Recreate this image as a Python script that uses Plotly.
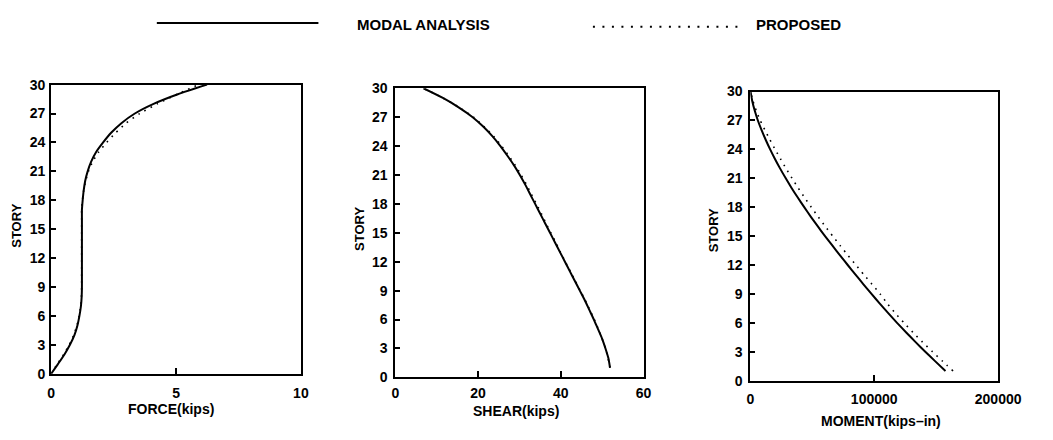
import plotly.graph_objects as go

W, H = 1053, 440

# ---------------- data ----------------
story_force = list(range(0, 31))
force_modal = [0, 0.27, 0.53, 0.75, 0.93, 1.05, 1.13, 1.19, 1.22, 1.23, 1.23,
               1.23, 1.23, 1.23, 1.23, 1.23, 1.23, 1.23, 1.26, 1.30, 1.36,
               1.46, 1.60, 1.80, 2.08, 2.40, 2.81, 3.35, 4.10, 5.07, 6.24]
force_proposed = [0, 0.24, 0.50, 0.72, 0.90, 1.03, 1.12, 1.18, 1.21, 1.22, 1.22,
                  1.22, 1.22, 1.22, 1.22, 1.22, 1.22, 1.22, 1.25, 1.30, 1.38,
                  1.49, 1.66, 1.90, 2.22, 2.58, 3.00, 3.55, 4.25, 5.05, 5.90]

story_shear = list(range(1, 31))
shear_modal = [51.9, 51.5, 50.8, 50.0, 49.0, 48.0, 46.9, 45.8, 44.6, 43.4,
               42.2, 41.0, 39.8, 38.6, 37.4, 36.2, 35.0, 33.8, 32.6, 31.4,
               30.1, 28.7, 27.1, 25.4, 23.5, 21.3, 18.7, 15.4, 11.5, 6.8]
shear_proposed = [51.9, 51.4, 50.8, 50.0, 49.1, 48.1, 47.0, 45.9, 44.7, 43.5,
                  42.3, 41.1, 39.9, 38.8, 37.6, 36.4, 35.3, 34.1, 32.9, 31.7,
                  30.4, 29.0, 27.4, 25.7, 23.8, 21.5, 18.9, 15.5, 11.5, 6.8]

story_moment = list(range(1, 31))
moment_modal = [157500, 149300, 141200, 133400, 125800, 118400, 111300, 104500,
                97800, 91300, 84900, 78600, 72400, 66300, 60300, 54500, 48900,
                43500, 38300, 33300, 28600, 24100, 19900, 16000, 12400, 9100,
                6100, 3600, 1600, 200]
moment_proposed = [163600, 155300, 147000, 139000, 131300, 124000, 117000,
                   110500, 104800, 98200, 91600, 85200, 78800, 72600, 66500,
                   60500, 54800, 49200, 43800, 38600, 33700, 28900, 24400,
                   20000, 15800, 11800, 8000, 4800, 2200, 200]

story_ticks = list(range(0, 31, 3))
force_ticks = [0, 5, 10]
shear_ticks = [0, 20, 40, 60]
moment_ticks = [0, 100000, 200000]

legend_names = ["MODAL ANALYSIS", "PROPOSED"]

# ---------------- helpers ----------------
def px(x):
    return x / W

def py(y):
    return 1 - y / H

FONT = "Liberation Sans, Arial, sans-serif"
DOTS = "1.6px,5.4px"

# panel boxes in pixels: (left, right, top, bottom)
boxes = [(48.5, 305.0, 79.5, 379.5),
         (402.0, 657.0, 83.3, 383.3),
         (766.7, 1021.3, 86.7, 386.7)]

fig = go.Figure()

series = [
    (force_modal, force_proposed, story_force, "x", "y"),
    (shear_modal, shear_proposed, story_shear, "x2", "y2"),
    (moment_modal, moment_proposed, story_moment, "x3", "y3"),
]
for modal, prop, st, xa, ya in series:
    fig.add_trace(go.Scatter(x=prop, y=st, mode="lines", xaxis=xa, yaxis=ya,
                             name=legend_names[1], showlegend=False,
                             line=dict(color="black", width=1.6, dash=DOTS,
                                       shape="spline", smoothing=0.6)))
    fig.add_trace(go.Scatter(x=modal, y=st, mode="lines", xaxis=xa, yaxis=ya,
                             name=legend_names[0], showlegend=False,
                             line=dict(color="black", width=2,
                                       shape="spline", smoothing=0.6)))

xranges = [[0, 10], [0, 60], [0, 200000]]
xticks = [force_ticks, shear_ticks, moment_ticks]
xstand = [5, 2, 5]
ystand = [1, 3, 3]

tickfont = dict(family=FONT, size=14, color="black", weight="bold")
layout = dict(width=W, height=H, margin=dict(l=0, r=0, t=0, b=0),
              paper_bgcolor="white", plot_bgcolor="white", showlegend=False)

for i, (l, r, t, b) in enumerate(boxes):
    sfx = "" if i == 0 else str(i + 1)
    layout["xaxis" + sfx] = dict(
        domain=[px(l), px(r)], range=xranges[i], anchor="y" + sfx,
        tickvals=xticks[i], ticktext=[str(v) for v in xticks[i]],
        ticks="inside", ticklen=6, tickwidth=2, tickcolor="black",
        showline=True, linecolor="black", linewidth=2, mirror=True,
        showgrid=False, zeroline=False, tickfont=tickfont,
        ticklabelstandoff=xstand[i], fixedrange=True)
    layout["yaxis" + sfx] = dict(
        domain=[py(b), py(t)], range=[0, 30], anchor="x" + sfx,
        tickvals=story_ticks, ticks="inside", ticklen=5, tickwidth=2,
        tickcolor="black", showline=True, linecolor="black", linewidth=2,
        mirror=True, showgrid=False, zeroline=False, tickfont=tickfont,
        ticklabelstandoff=ystand[i], fixedrange=True)

fig.update_layout(**layout)

# axis titles
titlefont = dict(family=FONT, size=14, color="black", weight="bold")
xtitles = [("FORCE(kips)", 172, 416), ("SHEAR(kips)", 526, 418.5),
           ("MOMENT(kips\u2013in)", 901, 428.5)]
for text, x, y in xtitles:
    fig.add_annotation(text=text, x=px(x), y=py(y), xref="paper", yref="paper",
                       showarrow=False, xanchor="center", yanchor="middle",
                       font=titlefont)
ytitles = [(12.8, 225.5), (365, 229), (728.3, 230.8)]
for x, y in ytitles:
    fig.add_annotation(text="STORY", x=px(x), y=py(y), xref="paper", yref="paper",
                       showarrow=False, textangle=-90, xanchor="center",
                       yanchor="middle",
                       font=dict(family=FONT, size=13, color="black", weight="bold"))

# legend
fig.add_shape(type="line", xref="paper", yref="paper",
              x0=px(157), x1=px(323), y0=py(15.5), y1=py(15.5),
              line=dict(color="black", width=2))
fig.add_shape(type="line", xref="paper", yref="paper",
              x0=px(605), x1=px(757), y0=py(19.5), y1=py(19.5),
              line=dict(color="black", width=2, dash="2px,7.5px"))
legfont = dict(family=FONT, size=15, color="black", weight="bold")
fig.add_annotation(text=legend_names[0], x=px(361), y=py(17), xref="paper",
                   yref="paper", showarrow=False, xanchor="left",
                   yanchor="middle", font=legfont)
fig.add_annotation(text=legend_names[1], x=px(770), y=py(17), xref="paper",
                   yref="paper", showarrow=False, xanchor="left",
                   yanchor="middle", font=legfont)

fig.write_html("out.html", config={"displayModeBar": False})
